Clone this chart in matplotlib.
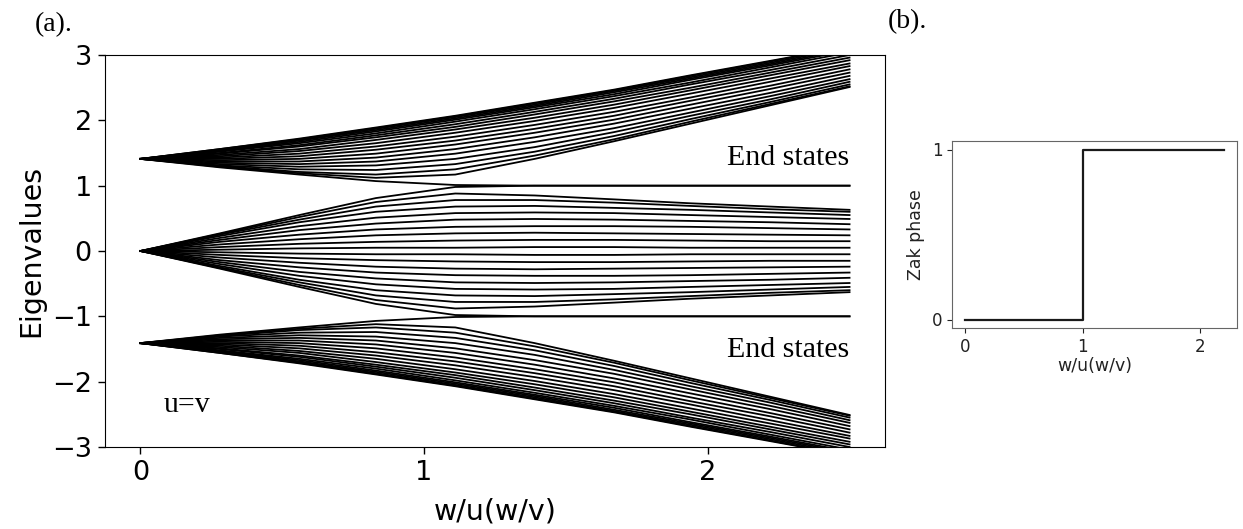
import matplotlib
matplotlib.use("Agg")
import matplotlib.pyplot as plt

# --- data (eigenvalues of the finite chain, u = v) ---
# x axis: w/u(w/v) sample points
w_ratio = [0.0, 0.28, 0.56, 0.83, 1.11, 1.39, 1.67, 1.94, 2.22, 2.5]

# upper bulk band (19 levels, lowest first)
upper_band = [
    [1.41, 1.29, 1.19, 1.12, 1.17, 1.41, 1.68, 1.95, 2.23, 2.51],
    [1.41, 1.30, 1.21, 1.17, 1.25, 1.46, 1.71, 1.98, 2.25, 2.52],
    [1.41, 1.31, 1.25, 1.24, 1.33, 1.52, 1.76, 2.02, 2.28, 2.55],
    [1.41, 1.33, 1.29, 1.31, 1.41, 1.59, 1.82, 2.07, 2.32, 2.59],
    [1.41, 1.35, 1.33, 1.37, 1.49, 1.67, 1.88, 2.12, 2.37, 2.63],
    [1.41, 1.37, 1.37, 1.43, 1.56, 1.74, 1.95, 2.18, 2.42, 2.68],
    [1.41, 1.39, 1.41, 1.49, 1.63, 1.81, 2.01, 2.24, 2.48, 2.73],
    [1.41, 1.41, 1.45, 1.55, 1.69, 1.87, 2.07, 2.30, 2.53, 2.78],
    [1.41, 1.43, 1.49, 1.60, 1.75, 1.93, 2.13, 2.35, 2.59, 2.83],
    [1.41, 1.45, 1.53, 1.65, 1.81, 1.99, 2.19, 2.41, 2.64, 2.87],
    [1.41, 1.47, 1.56, 1.70, 1.86, 2.04, 2.24, 2.46, 2.69, 2.92],
    [1.41, 1.49, 1.60, 1.74, 1.90, 2.09, 2.29, 2.50, 2.73, 2.96],
    [1.41, 1.50, 1.62, 1.77, 1.94, 2.13, 2.33, 2.55, 2.77, 3.00],
    [1.41, 1.52, 1.65, 1.80, 1.98, 2.17, 2.37, 2.58, 2.81, 3.04],
    [1.41, 1.53, 1.67, 1.83, 2.01, 2.20, 2.40, 2.62, 2.84, 3.07],
    [1.41, 1.54, 1.69, 1.85, 2.03, 2.22, 2.43, 2.64, 2.86, 3.09],
    [1.41, 1.55, 1.70, 1.87, 2.05, 2.24, 2.45, 2.66, 2.88, 3.11],
    [1.41, 1.56, 1.71, 1.88, 2.06, 2.26, 2.46, 2.68, 2.90, 3.13],
    [1.41, 1.56, 1.72, 1.89, 2.07, 2.27, 2.47, 2.69, 2.91, 3.13],
]

# levels that end up as the +1 end states
upper_end_states = [
    [0.00, 0.27, 0.55, 0.81, 0.98, 1.00, 1.00, 1.00, 1.00, 1.00],
    [1.41, 1.28, 1.17, 1.07, 1.01, 1.00, 1.00, 1.00, 1.00, 1.00],
]

# middle bulk band (18 levels, lowest first)
middle_band = [
    [0.00, -0.26, -0.52, -0.75, -0.88, -0.85, -0.79, -0.73, -0.68, -0.63],
    [0.00, -0.25, -0.48, -0.68, -0.78, -0.78, -0.74, -0.69, -0.64, -0.60],
    [0.00, -0.23, -0.44, -0.60, -0.68, -0.69, -0.66, -0.63, -0.59, -0.55],
    [0.00, -0.20, -0.38, -0.51, -0.58, -0.59, -0.58, -0.55, -0.52, -0.49],
    [0.00, -0.17, -0.32, -0.42, -0.48, -0.49, -0.48, -0.46, -0.44, -0.41],
    [0.00, -0.14, -0.25, -0.33, -0.37, -0.38, -0.38, -0.37, -0.35, -0.33],
    [0.00, -0.10, -0.18, -0.24, -0.27, -0.28, -0.27, -0.26, -0.25, -0.24],
    [0.00, -0.06, -0.11, -0.14, -0.16, -0.17, -0.17, -0.16, -0.15, -0.15],
    [0.00, -0.02, -0.04, -0.05, -0.05, -0.06, -0.06, -0.05, -0.05, -0.05],
    [0.00, 0.02, 0.04, 0.05, 0.05, 0.06, 0.06, 0.05, 0.05, 0.05],
    [0.00, 0.06, 0.11, 0.14, 0.16, 0.17, 0.17, 0.16, 0.15, 0.15],
    [0.00, 0.10, 0.18, 0.24, 0.27, 0.28, 0.27, 0.26, 0.25, 0.24],
    [0.00, 0.14, 0.25, 0.33, 0.37, 0.38, 0.38, 0.37, 0.35, 0.33],
    [0.00, 0.17, 0.32, 0.42, 0.48, 0.49, 0.48, 0.46, 0.44, 0.41],
    [0.00, 0.20, 0.38, 0.51, 0.58, 0.59, 0.58, 0.55, 0.52, 0.49],
    [0.00, 0.23, 0.44, 0.60, 0.68, 0.69, 0.66, 0.63, 0.59, 0.55],
    [0.00, 0.25, 0.48, 0.68, 0.78, 0.78, 0.74, 0.69, 0.64, 0.60],
    [0.00, 0.26, 0.52, 0.75, 0.88, 0.85, 0.79, 0.73, 0.68, 0.63],
]

# levels that end up as the -1 end states
lower_end_states = [
    [-1.41, -1.28, -1.17, -1.07, -1.01, -1.00, -1.00, -1.00, -1.00, -1.00],
    [0.00, -0.27, -0.55, -0.81, -0.98, -1.00, -1.00, -1.00, -1.00, -1.00],
]

# lower bulk band (19 levels, lowest first)
lower_band = [
    [-1.41, -1.56, -1.72, -1.89, -2.07, -2.27, -2.47, -2.69, -2.91, -3.13],
    [-1.41, -1.56, -1.71, -1.88, -2.06, -2.26, -2.46, -2.68, -2.90, -3.13],
    [-1.41, -1.55, -1.70, -1.87, -2.05, -2.24, -2.45, -2.66, -2.88, -3.11],
    [-1.41, -1.54, -1.69, -1.85, -2.03, -2.22, -2.43, -2.64, -2.86, -3.09],
    [-1.41, -1.53, -1.67, -1.83, -2.01, -2.20, -2.40, -2.62, -2.84, -3.07],
    [-1.41, -1.52, -1.65, -1.80, -1.98, -2.17, -2.37, -2.58, -2.81, -3.04],
    [-1.41, -1.50, -1.62, -1.77, -1.94, -2.13, -2.33, -2.55, -2.77, -3.00],
    [-1.41, -1.49, -1.60, -1.74, -1.90, -2.09, -2.29, -2.50, -2.73, -2.96],
    [-1.41, -1.47, -1.56, -1.70, -1.86, -2.04, -2.24, -2.46, -2.69, -2.92],
    [-1.41, -1.45, -1.53, -1.65, -1.81, -1.99, -2.19, -2.41, -2.64, -2.87],
    [-1.41, -1.43, -1.49, -1.60, -1.75, -1.93, -2.13, -2.35, -2.59, -2.83],
    [-1.41, -1.41, -1.45, -1.55, -1.69, -1.87, -2.07, -2.30, -2.53, -2.78],
    [-1.41, -1.39, -1.41, -1.49, -1.63, -1.81, -2.01, -2.24, -2.48, -2.73],
    [-1.41, -1.37, -1.37, -1.43, -1.56, -1.74, -1.95, -2.18, -2.42, -2.68],
    [-1.41, -1.35, -1.33, -1.37, -1.49, -1.67, -1.88, -2.12, -2.37, -2.63],
    [-1.41, -1.33, -1.29, -1.31, -1.41, -1.59, -1.82, -2.07, -2.32, -2.59],
    [-1.41, -1.31, -1.25, -1.24, -1.33, -1.52, -1.76, -2.02, -2.28, -2.55],
    [-1.41, -1.30, -1.21, -1.17, -1.25, -1.46, -1.71, -1.98, -2.25, -2.52],
    [-1.41, -1.29, -1.19, -1.12, -1.17, -1.41, -1.68, -1.95, -2.23, -2.51],
]

# panel (b): Zak phase step
zak_x = [0.0, 1.0, 1.0, 2.2]
zak_phase = [0, 0, 1, 1]

SERIF = ["Liberation Serif", "DejaVu Serif"]

fig = plt.figure(figsize=(12.43, 5.29), dpi=100)

# --- (a) eigenvalue spectrum ---
ax1 = fig.add_axes([105 / 1243, 82 / 529, 780 / 1243, 392 / 529])
for group in (lower_band, lower_end_states, middle_band, upper_end_states, upper_band):
    for level in group:
        ax1.plot(w_ratio, level, color="black", lw=1.3)

ax1.set_ylim(-3, 3)
ax1.set_xticks([0, 1, 2])
ax1.set_yticks([-3, -2, -1, 0, 1, 2, 3])
ax1.tick_params(labelsize=19.5, length=5, width=1, pad=4.5)
ax1.set_xlabel("w/u(w/v)", fontsize=20.5, labelpad=8)
ax1.set_ylabel("Eigenvalues", fontsize=20.5, labelpad=5)

ax1.text(2.5, 1.32, "End states", family=SERIF, fontsize=21.5, ha="right", va="baseline")
ax1.text(2.5, -1.62, "End states", family=SERIF, fontsize=21.5, ha="right", va="baseline")
ax1.text(0.08, -2.46, "u=v", family=SERIF, fontsize=21.5, ha="left", va="baseline")

# --- (b) Zak phase ---
ax2 = fig.add_axes([952 / 1243, 201 / 529, 285 / 1243, 187 / 529])
ax2.plot(zak_x, zak_phase, color="#1a1a1a", lw=1.6)
ax2.set_xticks([0, 1, 2])
ax2.set_yticks([0, 1])
ax2.tick_params(labelsize=12, colors="#222222", length=3.5, width=0.8)
for sp in ax2.spines.values():
    sp.set_color("#666666")
    sp.set_linewidth(0.8)
ax2.set_xlabel("w/u(w/v)", fontsize=12.5, color="#222222", labelpad=1)
ax2.set_ylabel("Zak phase", fontsize=12.5, color="#222222", labelpad=5)

fig.text(35 / 1243, 1 - 12 / 529, "(a).", family=SERIF, fontsize=20, ha="left", va="top")
fig.text(888 / 1243, 1 - 9 / 529, "(b).", family=SERIF, fontsize=20, ha="left", va="top")

fig.savefig("out.png", dpi=100)
